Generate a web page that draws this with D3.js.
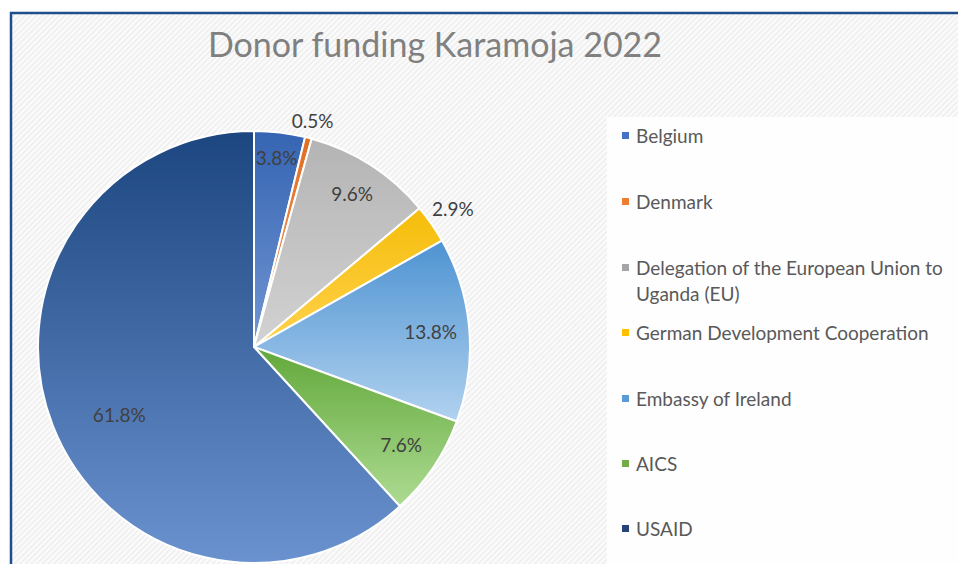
<!DOCTYPE html>
<html>
<head>
<meta charset="utf-8">
<script src="https://cdn.jsdelivr.net/npm/d3@7"></script>
<style>
  body { margin: 0; background: #fff; }
  svg { display: block; }
</style>
</head>
<body>
<div id="chart"></div>
<script>
// data
const donors = ["Belgium", "Denmark", "Delegation of the European Union to Uganda (EU)",
  "German Development Cooperation", "Embassy of Ireland", "AICS", "USAID"];
const shares = [3.8, 0.5, 9.6, 2.9, 13.8, 7.6, 61.8];
const topColors = ["#3564b2", "#e06d23", "#b4b4b4", "#f5bd0a", "#4e93d2", "#62a83a", "#1c467f"];
const bottomColors = ["#7196d3", "#f4a26c", "#d2d2d2", "#ffd24d", "#b2d2ef", "#addb92", "#6a92cf"];
const legendColors = ["#4472c4", "#ed7d31", "#a5a5a5", "#ffc000", "#5b9bd5", "#70ad47", "#264478"];

const width = 958, height = 564;
const cx = 254, cy = 347, radius = 216;
const font = "Lato, 'Open Sans', sans-serif";

const svg = d3.select("#chart").append("svg")
  .attr("width", width)
  .attr("height", height);

const defs = svg.append("defs");

// light diagonal hatch behind the chart
const hatch = defs.append("pattern")
  .attr("id", "hatch")
  .attr("patternUnits", "userSpaceOnUse")
  .attr("width", 4).attr("height", 4)
  .attr("patternTransform", "rotate(45)");
hatch.append("rect").attr("width", 4).attr("height", 4).attr("fill", "#fbfbfb");
hatch.append("rect").attr("width", 1.5).attr("height", 4).attr("fill", "#ededed");

donors.forEach((d, i) => {
  const g = defs.append("linearGradient")
    .attr("id", "grad" + i)
    .attr("x1", 0).attr("y1", 0).attr("x2", 0).attr("y2", 1);
  g.append("stop").attr("offset", "0%").attr("stop-color", topColors[i]);
  g.append("stop").attr("offset", "100%").attr("stop-color", bottomColors[i]);
});

// chart area with frame
svg.append("rect")
  .attr("x", 11).attr("y", 13)
  .attr("width", width).attr("height", height)
  .attr("fill", "url(#hatch)")
  .attr("stroke", "#1f4e8c")
  .attr("stroke-width", 2.5);

// legend panel
svg.append("rect")
  .attr("x", 607).attr("y", 117)
  .attr("width", width - 607).attr("height", height - 117)
  .attr("fill", "#fefefe");

svg.append("text")
  .attr("x", 435).attr("y", 57)
  .attr("text-anchor", "middle")
  .style("font-family", font)
  .style("font-size", "34px")
  .style("fill", "#808080")
  .text("Donor funding Karamoja 2022");

const pie = d3.pie().sort(null).value(d => d);
const arcs = pie(shares);
const arc = d3.arc().innerRadius(0).outerRadius(radius);

const g = svg.append("g").attr("transform", `translate(${cx},${cy})`);

g.selectAll("path")
  .data(arcs)
  .enter().append("path")
  .attr("d", arc)
  .attr("fill", (d, i) => `url(#grad${i})`)
  .attr("stroke", "#fff")
  .attr("stroke-width", 2);

// label distance from centre as a share of the radius (outside ones > 1)
const labelR = [0.88, 1.08, 0.84, 1.12, 0.82, 0.82, 0.70];
// small angle nudges (radians) so labels sit where the original put them
const labelTurn = [0, 0, 0, 0, 0, 0, -0.1];
const midAngle = (d, i) => (d.startAngle + d.endAngle) / 2 + labelTurn[i];
g.selectAll("text.lbl")
  .data(arcs)
  .enter().append("text")
  .attr("class", "lbl")
  .attr("x", (d, i) => Math.sin(midAngle(d, i)) * radius * labelR[i])
  .attr("y", (d, i) => -Math.cos(midAngle(d, i)) * radius * labelR[i])
  .attr("dy", "0.35em")
  .attr("text-anchor", "middle")
  .style("font-family", font)
  .style("font-size", "19px")
  .style("fill", "#404040")
  .text(d => d3.format(".1f")(d.data) + "%");

// legend
const legendY = [136, 202, 268, 333, 399, 464, 529];
const legend = svg.append("g");
donors.forEach((name, i) => {
  const row = legend.append("g").attr("transform", `translate(622,${legendY[i]})`);
  row.append("rect")
    .attr("x", 0).attr("y", -4)
    .attr("width", 7).attr("height", 7)
    .attr("fill", legendColors[i]);
  const t = row.append("text")
    .attr("x", 14).attr("y", 0)
    .attr("dy", "0.35em")
    .style("font-family", font)
    .style("font-size", "19px")
    .style("fill", "#595959");
  if (i === 2) {
    t.append("tspan").attr("x", 14).text("Delegation of the European Union to");
    t.append("tspan").attr("x", 14).attr("dy", "1.4em").text("Uganda (EU)");
  } else {
    t.text(name);
  }
});
</script>
</body>
</html>
